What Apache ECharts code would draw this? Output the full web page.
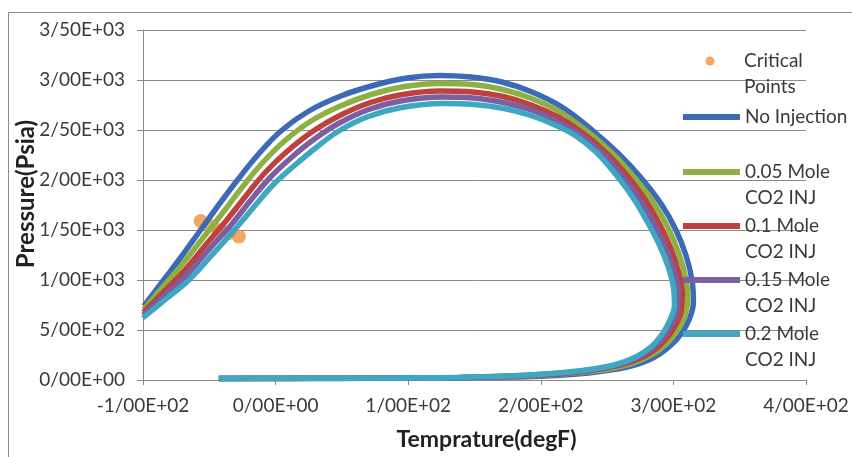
<!DOCTYPE html>
<html>
<head>
<meta charset="utf-8">
<script src="https://cdn.jsdelivr.net/npm/echarts@6/dist/echarts.min.js"></script>
<style>
  html, body { margin: 0; padding: 0; background: #ffffff; }
  #chart { width: 852px; height: 457px; }
</style>
</head>
<body>
<div id="chart"></div>
<script>
// Phase envelopes: [temperature degF, pressure psia], traced from the low-T end over the top and back along the bottom
const noInjection = [
  [-99.3, 740], [-85.0, 990], [-70.7, 1240], [-57.1, 1490], [-43.5, 1740], [-29.9, 1980], [-14.1, 2240],
  [4.0, 2490], [25.1, 2690], [49.2, 2840], [74.9, 2950], [99.0, 3020], [123.2, 3045], [147.3, 3030],
  [170.7, 2980], [193.3, 2880], [215.9, 2730], [237.8, 2510], [258.9, 2260], [277.0, 2000], [291.3, 1750],
  [301.9, 1500], [309.4, 1250], [314.0, 1000], [315.1, 780], [311.7, 600], [305.7, 460], [296.6, 330],
  [284.5, 220], [268.0, 140], [247.6, 90], [222.7, 55], [194.8, 35], [164.6, 25], [130.7, 20],
  [93.0, 17], [47.7, 16], [2.5, 15], [-42.8, 15]
];
const co2Inj005 = [
  [-99.5, 705], [-84.4, 940], [-69.2, 1175], [-54.5, 1425], [-39.7, 1675], [-26.2, 1910], [-10.7, 2160],
  [6.7, 2390], [26.8, 2590], [48.8, 2740], [73.2, 2860], [97.4, 2935], [123.8, 2965], [147.9, 2955],
  [171.1, 2905], [193.1, 2815], [214.4, 2680], [234.6, 2490], [254.1, 2265], [270.9, 2020], [285.0, 1775],
  [295.8, 1525], [303.7, 1280], [308.9, 1040], [310.9, 820], [308.6, 640], [303.3, 500], [295.3, 370],
  [284.3, 255], [269.0, 165], [249.7, 105], [225.9, 70], [198.6, 45], [168.3, 30], [134.5, 22],
  [96.8, 18], [51.5, 17], [4.6, 16], [-42.8, 15]
];
const co2Inj010 = [
  [-99.7, 675], [-83.7, 890], [-67.7, 1110], [-52.1, 1360], [-36.2, 1610], [-22.5, 1840], [-7.5, 2080],
  [9.4, 2295], [28.4, 2490], [48.4, 2645], [71.6, 2775], [95.7, 2855], [124.4, 2890], [148.6, 2880],
  [171.5, 2835], [192.9, 2750], [213.0, 2630], [231.6, 2470], [249.4, 2270], [265.0, 2045], [278.9, 1800],
  [289.9, 1550], [298.3, 1310], [304.0, 1075], [306.8, 860], [305.7, 680], [301.1, 535], [294.1, 405],
  [284.2, 285], [270.1, 190], [251.7, 125], [229.0, 80], [202.3, 50], [171.7, 35], [138.2, 25],
  [100.5, 20], [55.2, 17], [6.6, 16], [-42.8, 15]
];
const co2Inj015 = [
  [-99.9, 650], [-83.3, 850], [-66.6, 1055], [-50.2, 1305], [-33.3, 1555], [-19.5, 1785], [-4.8, 2015],
  [11.5, 2220], [29.8, 2415], [48.1, 2570], [70.2, 2705], [94.3, 2790], [124.9, 2830], [149.0, 2820],
  [171.8, 2775], [192.7, 2700], [211.8, 2590], [229.1, 2455], [245.6, 2275], [260.2, 2060], [273.9, 1820],
  [285.1, 1570], [293.7, 1335], [300.0, 1110], [303.5, 895], [303.2, 715], [299.2, 570], [293.1, 440],
  [283.9, 310], [270.9, 210], [253.4, 135], [231.5, 90], [205.3, 60], [174.5, 38], [141.2, 26],
  [103.5, 21], [58.2, 18], [8.3, 17], [-42.8, 16]
];
const co2Inj020 = [
  [-100.1, 620], [-82.7, 810], [-65.4, 1000], [-48.0, 1250], [-31.1, 1500], [-16.4, 1730], [-2.0, 1950],
  [13.8, 2140], [31.1, 2330], [47.7, 2490], [68.9, 2630], [93.0, 2720], [125.4, 2765], [149.5, 2755],
  [172.2, 2715], [192.5, 2645], [210.6, 2550], [226.5, 2440], [241.6, 2280], [255.1, 2080], [268.7, 1840],
  [280.0, 1590], [289.1, 1360], [295.9, 1140], [300.0, 930], [300.8, 750], [297.4, 600], [292.1, 470],
  [283.8, 340], [271.7, 230], [255.1, 150], [234.0, 100], [208.4, 65], [177.5, 42], [144.3, 28],
  [106.6, 22], [61.3, 18], [10.0, 17], [-42.8, 16]
];
// One critical point per composition
const criticalPoints = [[-56.5, 1590], [-49, 1540], [-42, 1500], [-35, 1470], [-27.7, 1435]];

const seriesNames = ['No Injection', '0.05 Mole\nCO2 INJ', '0.1 Mole\nCO2 INJ', '0.15 Mole\nCO2 INJ', '0.2 Mole\nCO2 INJ'];
const seriesData = [noInjection, co2Inj005, co2Inj010, co2Inj015, co2Inj020];
const seriesColors = ['#3C6AB6', '#8DB042', '#BF413D', '#7C5FA3', '#3EA7C2'];
const criticalName = 'Critical\nPoints';
const criticalColor = '#F3903F';

const xTicks = [-100, 0, 100, 200, 300, 400];
const yTicks = [0, 500, 1000, 1500, 2000, 2500, 3000, 3500];

// Scientific labels written with "/" as the decimal separator, e.g. 3/50E+03
function sciLabel(v) {
  if (v === 0) return '0/00E+00';
  const e = Math.floor(Math.log10(Math.abs(v)));
  const m = v / Math.pow(10, e);
  return m.toFixed(2).replace('.', '/') + 'E' + (e < 0 ? '-' : '+') + String(Math.abs(e)).padStart(2, '0');
}

const FONT = 'Lato';
const TEXT = '#3a3a3a';
const GRID = '#8a8a8a';
const LINE_H = 26;

const lineSeries = seriesNames.map((name, i) => ({
  name: name,
  type: 'line',
  data: seriesData[i],
  smooth: 0.4,
  symbol: 'none',
  z: 3,
  lineStyle: { color: seriesColors[i], width: 5.5 },
  itemStyle: { color: seriesColors[i] }
}));

// Legend rows: the icon sits level with the first text line
const legendRows = [
  { name: criticalName, icon: 'circle', w: 9, h: 9, left: 705.5, mid: 61, padLeft: 24.5, twoLines: true },
  { name: seriesNames[0], icon: 'rect', w: 57, h: 6, left: 683, mid: 117, padLeft: 0, twoLines: false },
  { name: seriesNames[1], icon: 'rect', w: 57, h: 6, left: 683, mid: 172, padLeft: 0, twoLines: true },
  { name: seriesNames[2], icon: 'rect', w: 57, h: 6, left: 683, mid: 226, padLeft: 0, twoLines: true },
  { name: seriesNames[3], icon: 'rect', w: 57, h: 6, left: 683, mid: 280, padLeft: 0, twoLines: true },
  { name: seriesNames[4], icon: 'rect', w: 57, h: 6, left: 683, mid: 334, padLeft: 0, twoLines: true }
];
const legends = legendRows.map(r => ({
  data: [{ name: r.name, icon: r.icon }],
  orient: 'vertical',
  left: r.left,
  top: r.mid - (r.twoLines ? LINE_H * 1.5 : LINE_H / 2),
  padding: 0,
  itemWidth: r.w,
  itemHeight: r.h,
  selectedMode: false,
  formatter: r.twoLines ? (n => ' \n' + n) : (n => n),
  textStyle: {
    fontFamily: FONT, fontSize: 19, color: TEXT, lineHeight: LINE_H,
    padding: [0, 0, 0, r.padLeft]
  }
}));

const chart = echarts.init(document.getElementById('chart'), null, { renderer: 'canvas' });
chart.setOption({
  backgroundColor: '#ffffff',
  animation: false,
  grid: { left: 143, right: 46, top: 30, bottom: 77 },
  graphic: [{
    type: 'rect',
    shape: { x: 8.5, y: 12.5, width: 900, height: 500 },
    style: { fill: 'none', stroke: '#8c8c8c', lineWidth: 1 },
    silent: true, z: -10
  }],
  legend: legends,
  xAxis: {
    type: 'value',
    min: xTicks[0], max: xTicks[xTicks.length - 1], interval: xTicks[1] - xTicks[0],
    name: 'Temprature(degF)',
    nameLocation: 'middle',
    nameGap: 48,
    nameMoveOverlap: false,
    nameTextStyle: { fontFamily: FONT, fontSize: 23, fontWeight: 'bold', color: '#222', padding: [0, 0, 0, 24] },
    axisLine: { show: true, onZero: false, lineStyle: { color: GRID, width: 1 } },
    axisTick: { show: true, length: 5, lineStyle: { color: GRID } },
    splitLine: { show: false },
    axisLabel: { formatter: sciLabel, fontFamily: FONT, fontSize: 19, color: TEXT, margin: 16 }
  },
  yAxis: {
    type: 'value',
    min: yTicks[0], max: yTicks[yTicks.length - 1], interval: yTicks[1] - yTicks[0],
    name: 'Pressure(Psia)',
    nameLocation: 'middle',
    nameGap: 105,
    nameMoveOverlap: false,
    nameTextStyle: { fontFamily: FONT, fontSize: 24, fontWeight: 'bold', color: '#222', padding: [0, 0, 0, 22] },
    axisLine: { show: true, onZero: false, lineStyle: { color: GRID, width: 1 } },
    axisTick: { show: true, length: 6, lineStyle: { color: GRID } },
    splitLine: { show: true, lineStyle: { color: GRID, width: 1 } },
    axisLabel: { formatter: sciLabel, fontFamily: FONT, fontSize: 19, color: TEXT, margin: 18 }
  },
  series: [{
    name: criticalName,
    type: 'scatter',
    data: criticalPoints,
    symbol: 'circle',
    symbolSize: 14,
    z: 2,
    itemStyle: { color: criticalColor }
  }].concat(lineSeries)
});
</script>
</body>
</html>
